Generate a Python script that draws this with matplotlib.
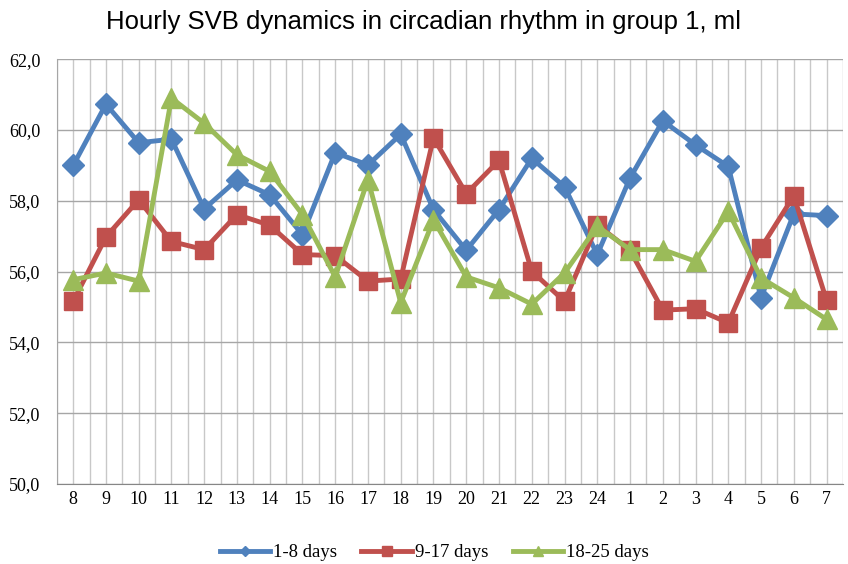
import numpy as np
import matplotlib.pyplot as plt
from matplotlib.ticker import FixedLocator

hours = ['8', '9', '10', '11', '12', '13', '14', '15', '16', '17', '18', '19',
         '20', '21', '22', '23', '24', '1', '2', '3', '4', '5', '6', '7']

days_1_8 = [59.0, 60.73, 59.64, 59.74, 57.77, 58.59, 58.17, 57.04, 59.36, 59.01,
            59.88, 57.75, 56.6, 57.75, 59.2, 58.4, 56.48, 58.64, 60.26, 59.58,
            58.97, 55.26, 57.63, 57.58]
days_9_17 = [55.16, 56.98, 58.03, 56.85, 56.62, 57.61, 57.31, 56.48, 56.45, 55.73,
             55.79, 59.78, 58.2, 59.14, 56.01, 55.16, 57.32, 56.6, 54.91, 54.95,
             54.55, 56.67, 58.14, 55.19]
days_18_25 = [55.77, 55.96, 55.73, 60.9, 60.19, 59.3, 58.83, 57.61, 55.85, 58.6,
              55.12, 57.46, 55.85, 55.54, 55.08, 55.96, 57.28, 56.62, 56.62, 56.29,
              57.7, 55.82, 55.26, 54.65]

x = np.arange(len(hours))

fig = plt.figure(figsize=(8.48, 5.64), dpi=100)
ax = fig.add_axes([0.067, 0.142, 0.927, 0.753])

ax.plot(x, days_1_8, color='#4F81BD', lw=3.5, marker='D', ms=11,
        label='1-8 days', zorder=3)
ax.plot(x, days_9_17, color='#C0504D', lw=3.5, marker='s', ms=13,
        label='9-17 days', zorder=3)
ax.plot(x, days_18_25, color='#9BBB59', lw=3.5, marker='^', ms=14,
        label='18-25 days', zorder=3)

ax.set_xlim(-0.5, len(hours) - 0.5)
ax.set_ylim(50, 62)
ax.set_yticks(np.arange(50, 62.1, 2))
ax.set_yticklabels([f'{v:.1f}'.replace('.', ',') for v in np.arange(50, 62.1, 2)],
                   family='Liberation Serif', fontsize=13)
ax.set_xticks(x)
ax.set_xticklabels(hours, family='Liberation Serif', fontsize=13)
ax.xaxis.set_minor_locator(FixedLocator(np.arange(-0.5, len(hours), 1)))

ax.grid(axis='y', which='major', color='#A6A6A6', lw=1.0)
ax.grid(axis='x', which='both', color='#C8C8C8', lw=1.0)
ax.set_axisbelow(True)
ax.tick_params(which='both', length=0)
ax.tick_params(axis='x', pad=5)
ax.tick_params(axis='y', pad=12)
for side in ['top', 'right']:
    ax.spines[side].set_visible(False)
ax.spines['left'].set_color('#A6A6A6')
ax.spines['bottom'].set_color('#868686')

fig.suptitle('Hourly SVB dynamics in circadian rhythm in group 1, ml',
             family='Liberation Sans', fontsize=18.5, y=0.983)

leg = fig.legend(loc='lower center', ncol=3, frameon=False,
                 bbox_to_anchor=(0.512, -0.025), prop={'family': 'Liberation Serif', 'size': 13.5},
                 handlelength=2.7, columnspacing=1.3, handletextpad=0.15, markerscale=0.5)

fig.savefig('out.png', dpi=100)
